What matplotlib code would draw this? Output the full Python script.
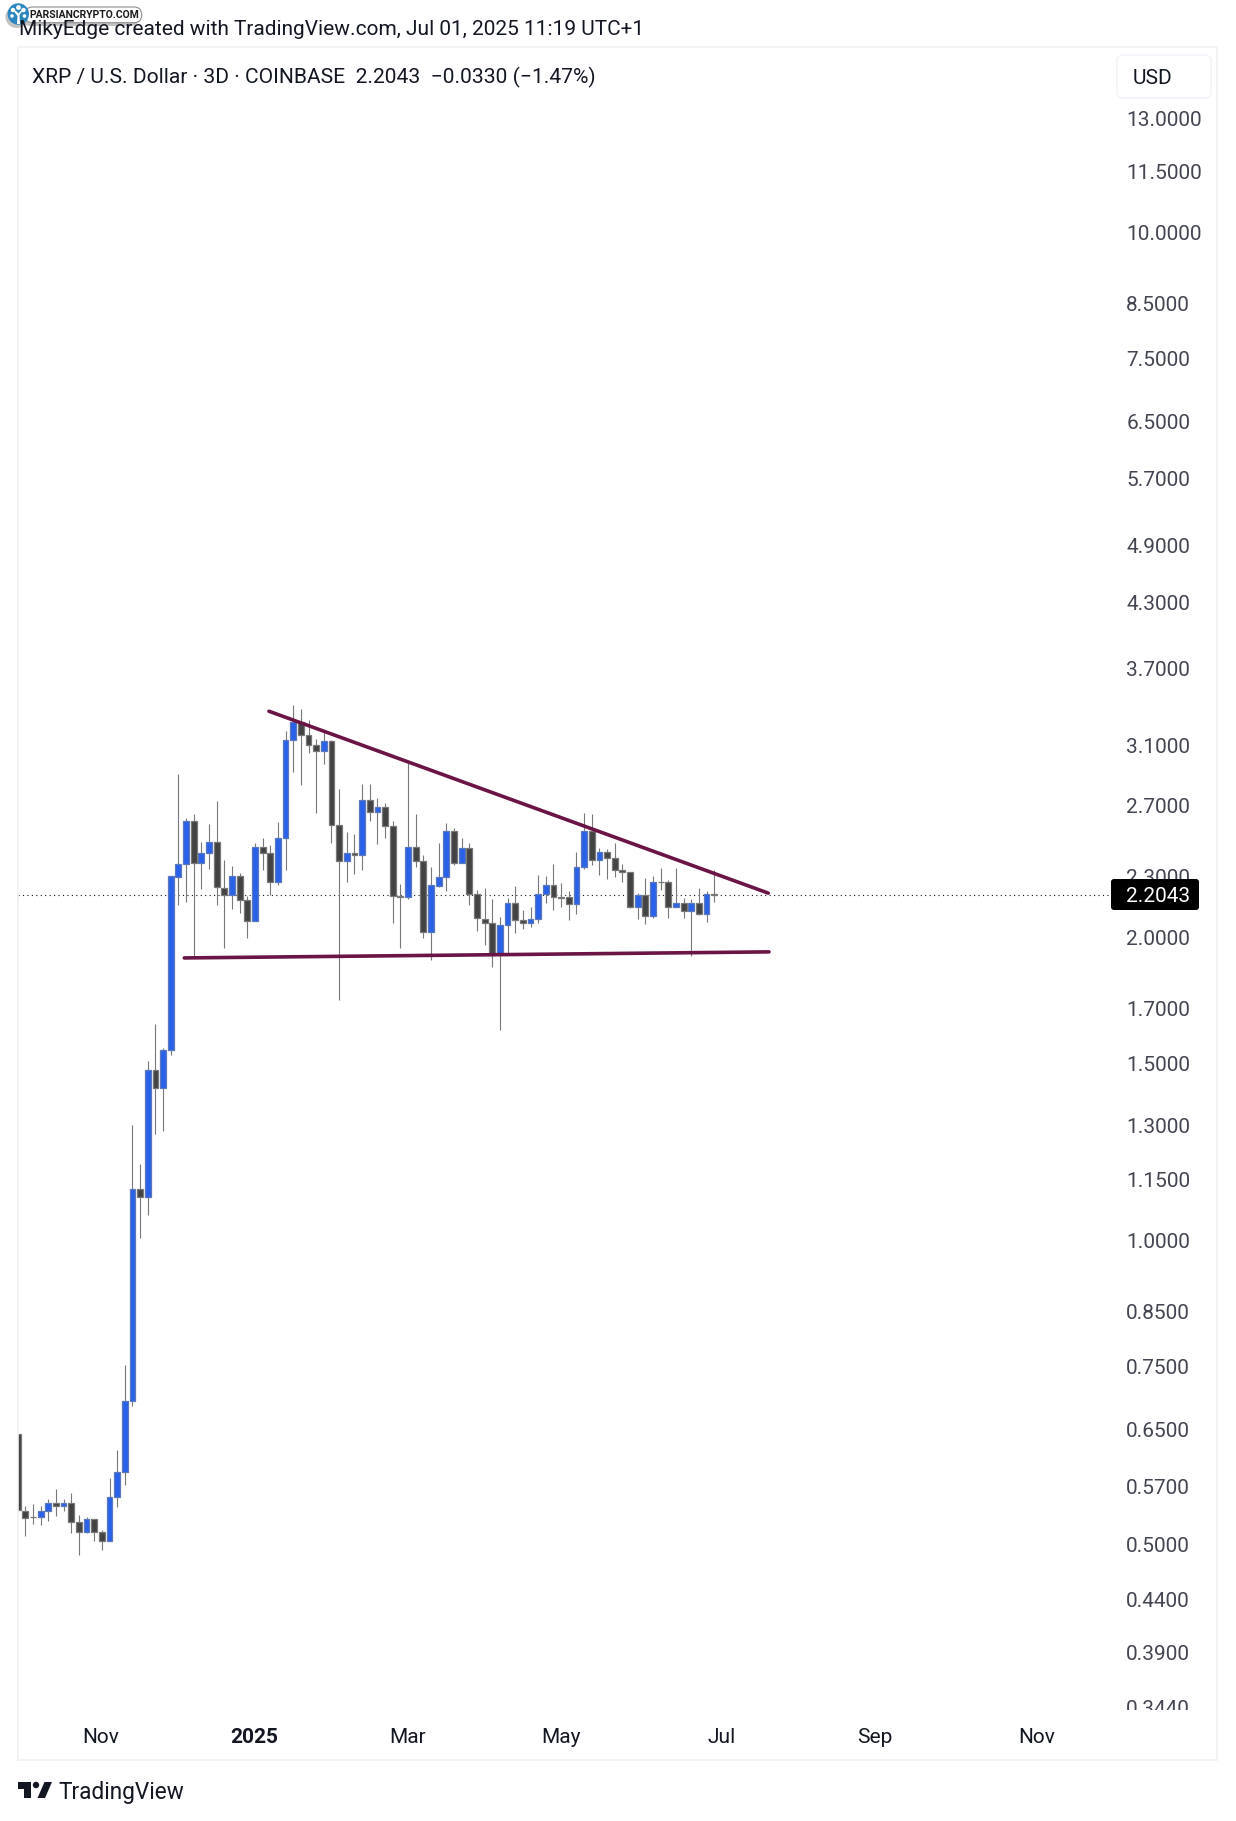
import numpy as np
import matplotlib
matplotlib.use('Agg')
import matplotlib.pyplot as plt
from matplotlib.patches import Circle, FancyBboxPatch, Polygon, Rectangle
from matplotlib.ticker import FixedLocator, NullLocator

plt.rcParams['font.family'] = ['Roboto', 'DejaVu Sans']

W, H = 1236, 1821

# 3D candles, oldest first
opens = [0.6434, 0.5394, 0.5322, 0.5316, 0.5394, 0.5494, 0.5450, 0.5494, 0.5258, 0.5141,
         0.5297, 0.5141, 0.5038, 0.5570, 0.5897, 0.6926, 1.1244, 1.1040, 1.4758, 1.4162,
         1.5448, 2.2959, 2.3619, 2.6113, 2.3725, 2.4222, 2.4836, 2.2361, 2.2004, 2.2980,
         2.1801, 2.0778, 2.4557, 2.4222, 2.2717, 2.5063, 3.1423, 3.2671, 3.1717, 3.1001,
         3.0581, 3.1281, 2.5821, 2.3832, 2.4222, 2.4110, 2.7398, 2.6601, 2.6907, 2.5763,
         2.1969, 2.1918, 2.4557, 2.3832, 2.0220, 2.2493, 2.2927, 2.5471, 2.3725, 2.4501,
         2.2055, 2.0875, 2.0639, 1.9228, 2.0546, 2.1604, 2.0826, 2.0639, 2.0875, 2.2055,
         2.2513, 2.1902, 2.1902, 2.1556, 2.3459, 2.5471, 2.3887, 2.4278, 2.3943, 2.3299,
         2.3192, 2.1410, 2.2004, 2.0972, 2.2707, 2.2717, 2.1410, 2.1604, 2.1215, 2.1604,
         2.1069, 2.2055]
closes = [0.5398, 0.5309, 0.5315, 0.5394, 0.5494, 0.5456, 0.5494, 0.5261, 0.5141, 0.5297,
          0.5141, 0.5038, 0.5570, 0.5897, 0.6926, 1.1244, 1.1040, 1.4758, 1.4162, 1.5448,
          2.2992, 2.3619, 2.6113, 2.3725, 2.4222, 2.4836, 2.2411, 2.2004, 2.2980, 2.1801,
          2.0778, 2.4557, 2.4222, 2.2717, 2.5063, 3.1423, 3.2671, 3.1717, 3.1001, 3.0581,
          3.1281, 2.5821, 2.3832, 2.4222, 2.4110, 2.7398, 2.6601, 2.6907, 2.5763, 2.1953,
          2.1918, 2.4557, 2.3832, 2.0220, 2.2513, 2.2927, 2.5471, 2.3725, 2.4501, 2.2055,
          2.0923, 2.0639, 1.9228, 2.0546, 2.1604, 2.0826, 2.0639, 2.0875, 2.2055, 2.2513,
          2.1902, 2.1867, 2.1556, 2.3459, 2.5471, 2.3887, 2.4278, 2.3943, 2.3299, 2.3192,
          2.1410, 2.2004, 2.0972, 2.2666, 2.2681, 2.1410, 2.1604, 2.1215, 2.1604, 2.1069,
          2.2055, 2.2043]
highs = [0.6434, 0.5456, 0.5473, 0.5456, 0.5536, 0.5673, 0.5546, 0.5622, 0.5346, 0.5322,
         0.5297, 0.5165, 0.5817, 0.6201, 0.7520, 1.3014, 1.1904, 1.5064, 1.6394, 1.5518,
         2.2992, 2.9034, 2.6253, 2.6498, 2.4852, 2.5897, 2.7292, 2.3848, 2.3528, 2.3155,
         2.1969, 2.4797, 2.5081, 2.4685, 2.6014, 3.2033, 3.3993, 3.3685, 3.2840, 3.1445,
         3.1959, 3.1372, 2.8056, 2.5430, 2.5313, 2.8376, 2.8376, 2.7481, 2.7170, 2.6073,
         2.2579, 2.9771, 2.6498, 2.4127, 2.3475, 2.4797, 2.5956, 2.5664, 2.5081, 2.4797,
         2.2274, 2.2376, 2.1816, 2.0938, 2.1867, 2.2477, 2.1278, 2.1424, 2.3048, 2.2996,
         2.3635, 2.2630, 2.2223, 2.4294, 2.6559, 2.6498, 2.4518, 2.4462, 2.4797, 2.3635,
         2.3208, 2.2121, 2.2889, 2.2996, 2.3422, 2.2783, 2.3422, 2.1867, 2.1816, 2.2376,
         2.2223, 2.3315]
lows = [0.5398, 0.5091, 0.5228, 0.5217, 0.5268, 0.5329, 0.5390, 0.5126, 0.4871, 0.5126,
        0.5033, 0.4927, 0.5038, 0.5440, 0.5716, 0.6848, 1.0052, 1.0596, 1.2750, 1.2836,
        1.5272, 2.1521, 2.1682, 1.9122, 2.2325, 2.3368, 2.1521, 1.9521, 2.1341, 2.1147,
        1.9956, 2.0778, 2.3315, 2.2020, 2.2528, 2.3315, 2.9188, 2.8312, 3.0462, 2.6577,
        2.9704, 2.4797, 1.7319, 2.2696, 2.3118, 2.3315, 2.6113, 2.4741, 2.5081, 2.0666,
        1.9521, 2.1816, 2.3475, 1.9956, 1.8976, 2.2427, 2.2238, 2.3598, 2.3725, 2.1536,
        2.0294, 1.9641, 1.8679, 1.6170, 1.9241, 2.0187, 2.0387, 2.0466, 2.0653, 2.1634,
        2.1278, 2.1424, 2.0792, 2.1083, 2.3368, 2.3598, 2.3048, 2.2852, 2.2943, 2.2696,
        2.1375, 2.0855, 2.0620, 2.0889, 2.2274, 2.0904, 2.1410, 2.0904, 1.9153, 2.1034,
        2.0713, 2.1682]

last_price = 2.2043

# trendlines: bar index, price
upper_x = [32.83, 98.06]
upper_y = [3.352, 2.2121]
lower_x = [21.77, 98.15]
lower_y = [1.9077, 1.9343]

y_ticks = [13.0, 11.5, 10.0, 8.5, 7.5, 6.5, 5.7, 4.9, 4.3, 3.7, 3.1, 2.7, 2.3, 2.0,
           1.7, 1.5, 1.3, 1.15, 1.0, 0.85, 0.75, 0.65, 0.57, 0.5, 0.44, 0.39, 0.344]
x_ticks = [10.89, 30.9, 51.0, 71.0, 92.0, 112.0, 133.1]
x_labels = ['Nov', '2025', 'Mar', 'May', 'Jul', 'Sep', 'Nov']

UP = '#2962e8'
UP_EDGE = '#5b78bd'
DOWN = '#434343'
DOWN_EDGE = '#787878'
WICK = '#787878'
TREND = '#6a1545'
TEXT = '#131722'
AXIS_TEXT = '#434651'
BORDER = '#f0f1f3'

fig = plt.figure(figsize=(W / 100, H / 100), dpi=100, facecolor='white')

# plot area in pixels: x 18..1111, y 47..1711
ax = fig.add_axes([18 / W, 1 - 1711 / H, (1111 - 18) / W, (1711 - 47) / H])
ax.set_yscale('log')
ax.set_xlim(0.046, 142.83)
ax.set_ylim(0.3414, 15.29)

idx = np.arange(len(opens))
o = np.array(opens)
c = np.array(closes)
up = c > o

ax.vlines(idx, lows, highs, color=WICK, lw=0.8, zorder=2)
ax.bar(idx[up], (c - o)[up], bottom=o[up], width=0.76, color=UP, edgecolor=UP_EDGE, linewidth=0.9, zorder=3)
ax.bar(idx[~up], (o - c)[~up], bottom=c[~up], width=0.76, color=DOWN, edgecolor=DOWN_EDGE, linewidth=0.9, zorder=3)

ax.axhline(last_price, color='#131722', lw=0.8, dashes=(1, 3), zorder=1)
ax.plot(upper_x, upper_y, color=TREND, lw=2.6, solid_capstyle='round', zorder=4)
ax.plot(lower_x, lower_y, color=TREND, lw=2.6, solid_capstyle='round', zorder=4)

for s in ax.spines.values():
    s.set_visible(False)

ax.yaxis.tick_right()
ax.yaxis.set_major_locator(FixedLocator(y_ticks))
ax.yaxis.set_minor_locator(NullLocator())
ax.set_yticklabels(['%.4f' % v for v in y_ticks])
ax.set_xticks(x_ticks)
ax.set_xticklabels(x_labels)
ax.tick_params(axis='y', length=0, pad=11, labelsize=15, labelcolor=AXIS_TEXT)
ax.tick_params(axis='x', length=0, pad=12, labelsize=15, labelcolor=TEXT)
ax.get_xticklabels()[1].set_fontweight('bold')

# everything around the chart, in image pixels
over = fig.add_axes([0, 0, 1, 1], zorder=5)
over.set_xlim(0, W)
over.set_ylim(H, 0)
over.axis('off')
over.patch.set_alpha(0)

over.add_patch(Rectangle((18, 47), 1199, 1713, fill=False, ec=BORDER, lw=1.2))
# price label cut off at the bottom of the scale
over.add_patch(Rectangle((1120, 1710), 90, 10, fc='white', ec='none'))

over.add_patch(FancyBboxPatch((1117, 55), 94, 43, boxstyle='round,pad=0,rounding_size=6', fc='white', ec='#f0f3fa', lw=1))
over.text(1153, 79, 'USD', ha='center', va='center', fontsize=15, color=TEXT)

over.add_patch(FancyBboxPatch((1111, 879), 88, 31, boxstyle='round,pad=0,rounding_size=3', fc='black', ec='none'))
over.text(1158, 897, '2.2043', ha='center', va='center', fontsize=15, color='white')

over.text(18.6, 29.5, 'MikyEdge created with TradingView.com, Jul 01, 2025 11:19 UTC+1', va='center', fontsize=15.05, color=TEXT)
over.text(32.5, 77, 'XRP / U.S. Dollar · 3D · COINBASE  2.2043  −0.0330 (−1.47%)', va='center', fontsize=15.1, color=TEXT)

# watermark over the header
over.add_patch(FancyBboxPatch((22, 10), 117, 16, boxstyle='round,pad=0,rounding_size=8', fc='#555555', ec='none', alpha=0.35))
over.add_patch(Circle((16.5, 17), 11, fc='#555555', ec='none', alpha=0.35))
over.add_patch(FancyBboxPatch((25, 7), 116.7, 15.7, boxstyle='round,pad=0,rounding_size=7.8', fc='white', ec='#8f8f8f', lw=0.8))
over.add_patch(Circle((18.3, 14), 10.7, fc='#2b86bf', ec='none'))
# little tree on the badge
over.add_patch(Polygon([(17, 24), (20, 24), (19.5, 15), (22.5, 11), (21, 10.5), (18.5, 13.5), (15.5, 10.5), (14, 11.5), (17.5, 16)], fc='white', ec='none'))
for bx, by, br in [(13, 10, 2.2), (18.5, 7.5, 2.4), (23.5, 10, 2.2), (12, 16, 1.8), (24.5, 16, 1.8)]:
    over.add_patch(Circle((bx, by), br, fc='white', ec='none'))
over.text(29.5, 15.4, 'PARSIANCRYPTO.COM', va='center', fontsize=7.5, fontweight='bold', color='#1b1b1b')

# TradingView logo
over.add_patch(Polygon([(17.7, 1782), (31, 1782), (31, 1798), (24, 1798), (24, 1789), (17.7, 1789)], fc='#131722', ec='none'))
over.add_patch(Circle((36, 1785), 3.2, fc='#131722', ec='none'))
over.add_patch(Polygon([(44.5, 1782), (52, 1782), (45, 1798), (37.5, 1798)], fc='#131722', ec='none'))
over.text(58, 1793, 'TradingView', va='center', fontsize=16.3, color=TEXT)

plt.savefig('out.png', dpi=100, facecolor='white')
